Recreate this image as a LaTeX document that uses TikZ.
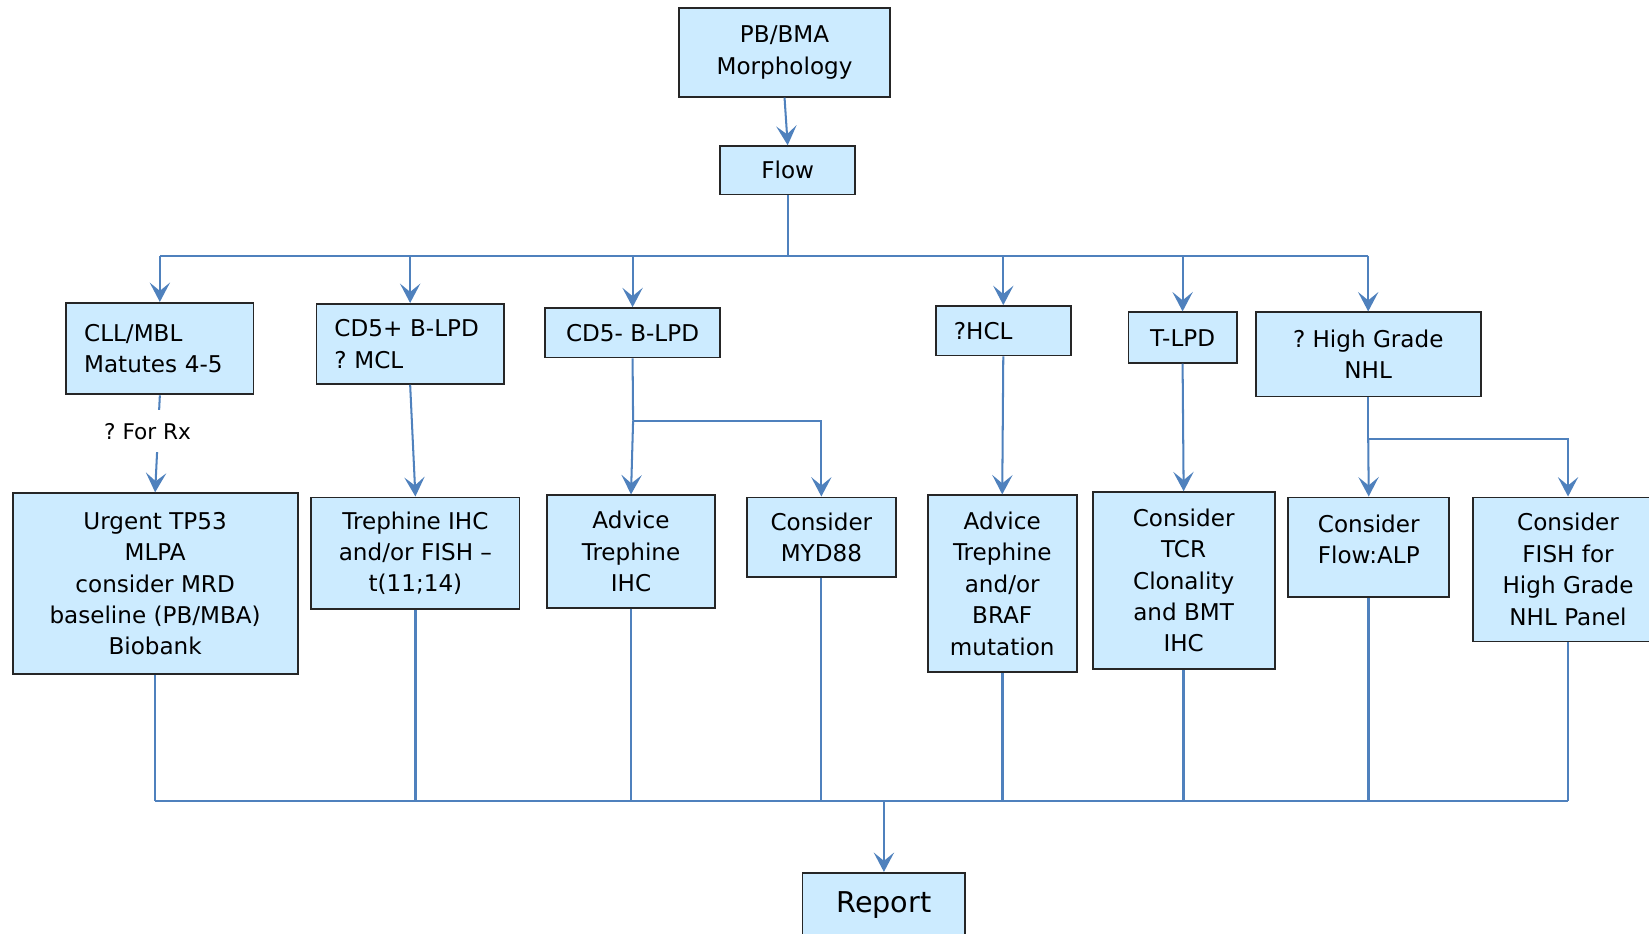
\documentclass[tikz,border=0pt]{standalone}
\usepackage{fontspec}
\setmainfont{DejaVu Sans}
\usetikzlibrary{arrows.meta}
\definecolor{linkblue}{RGB}{79,129,189}
\definecolor{boxfill}{RGB}{204,235,255}
\frenchspacing

\begin{document}
\begin{tikzpicture}[x=0.02cm,y=-0.02cm,>={Stealth[length=10.5pt,width=11pt,inset=4.5pt]},
        box/.style={draw=black!85,line width=1pt,fill=boxfill,inner sep=0pt,align=center,
            font=\fontsize{12.5}{17}\selectfont},
        link/.style={draw=linkblue,line width=1.1pt},
        heavylink/.style={draw=linkblue,line width=1.8pt}]
            \useasboundingbox (0,0) rectangle (1568,888);

            % the first two steps
            \node[box,minimum width=4cm,minimum height=1.68cm] (morph) at (746,50) {PB/BMA\\Morphology};
            \node[box,minimum width=2.56cm,minimum height=0.92cm] (flow) at (749,162) {Flow};

            % the groups after flow
            \node[box,minimum width=3.56cm,minimum height=1.74cm,text width=2.88cm,align=left] (cll) at (152,331.5) {CLL/MBL\\Matutes 4-5};
            \node[box,minimum width=3.56cm,minimum height=1.52cm,text width=2.88cm,align=left] (cdpos) at (390,327) {CD5+ B-LPD\\? MCL};
            \node[box,minimum width=3.34cm,minimum height=0.94cm] (cdneg) at (601.5,316.5) {CD5- B-LPD};
            \node[box,minimum width=2.56cm,minimum height=0.94cm,text width=1.88cm,align=left] (hcl) at (954,314.5) {?HCL};
            \node[box,minimum width=2.06cm,minimum height=0.96cm] (tlpd) at (1124.5,321) {T-LPD};
            \node[box,minimum width=4.28cm,minimum height=1.6cm] (hgnhl) at (1301,337) {? High Grade\\NHL};

            % the tests
            \node[box,minimum width=5.42cm,minimum height=3.44cm] (tp53) at (147.5,555) {Urgent TP53\\MLPA\\consider MRD\\baseline (PB/MBA)\\Biobank};
            \node[box,minimum width=3.96cm,minimum height=2.12cm] (trihc) at (395,526) {Trephine IHC\\and/or FISH \textendash\\t(11;14)};
            \node[box,minimum width=3.2cm,minimum height=2.14cm] (advihc) at (600,524.5) {Advice\\Trephine\\IHC};
            \node[box,minimum width=2.84cm,minimum height=1.52cm] (myd) at (781,511) {Consider\\MYD88};
            \node[box,minimum width=2.84cm,minimum height=3.36cm] (braf) at (953,555) {Advice\\Trephine\\and/or\\BRAF\\mutation};
            \node[box,minimum width=3.46cm,minimum height=3.36cm] (tcr) at (1125.5,552) {Consider\\TCR\\Clonality\\and BMT\\IHC};
            \node[box,minimum width=3.06cm,minimum height=1.9cm] (alp) at (1301.5,520.5) {Consider\\Flow:ALP\\[-8pt]\mbox{}};
            \node[box,minimum width=3.6cm,minimum height=2.74cm] (fish) at (1491,541.5) {Consider\\FISH for\\High Grade\\NHL Panel};

            % the end
            \node[box,minimum width=3.1cm,minimum height=1.24cm,font=\fontsize{15.5}{19}\selectfont] (report) at (840.5,861) {Report};

            % morphology to flow, then the bus
            \draw[link,->] (morph.south) -- (flow.north);
            \coordinate (split) at (749,243);
            \draw[link] (flow.south) -- (split);
            \draw[link] (split -| cll) -- (split -| hgnhl);
            \draw[link,->] (split -| cll) -- (cll.north);
            \draw[link,->] (split -| cdpos) -- (cdpos.north);
            \draw[link,->] (split -| cdneg) -- (cdneg.north);
            \draw[link,->] (split -| hcl) -- (hcl.north);
            \draw[link,->] (split -| tlpd) -- (tlpd.north);
            \draw[link,->] (split -| hgnhl) -- (hgnhl.north);

            % groups to tests
            \draw[link,->] (cll.south) -- node[pos=0.37,xshift=-0.2cm,fill=white,inner xsep=2pt,inner ysep=7pt,
                font=\fontsize{11.7}{14}\selectfont] (forrx) {? For Rx} (tp53.north);
            \draw[link,->] (cdpos.south) -- (trihc.north);
            \coordinate (cdsplit) at (602,400);
            \draw[link] (cdneg.south) -- (cdsplit);
            \draw[link,->] (cdsplit) -- (advihc.north);
            \draw[link,->] (cdsplit) -| (myd.north);
            \draw[link,->] (hcl.south) -- (braf.north);
            \draw[link,->] (tlpd.south) -- (tcr.north);
            \coordinate (hgsplit) at (1301,417);
            \draw[link] (hgnhl.south) -- (hgsplit);
            \draw[link,->] (hgsplit) -- (alp.north);
            \draw[link,->] (hgsplit) -| (fish.north);

            % everything joins into the report
            \coordinate (join) at (840.5,762);
            \draw[link] (tp53.south) -- (tp53.south |- join);
            \draw[heavylink] (trihc.south) -- (trihc.south |- join);
            \draw[link] (advihc.south) -- (advihc.south |- join);
            \draw[link] (myd.south) -- (myd.south |- join);
            \draw[heavylink] (braf.south) -- (braf.south |- join);
            \draw[heavylink] (tcr.south) -- (tcr.south |- join);
            \draw[heavylink] (alp.south) -- (alp.south |- join);
            \draw[link] (fish.south) -- (fish.south |- join);
            \draw[link] (tp53.south |- join) -- (fish.south |- join);
            \draw[link,->] (join) -- (report.north);
        \end{tikzpicture}
\end{document}
